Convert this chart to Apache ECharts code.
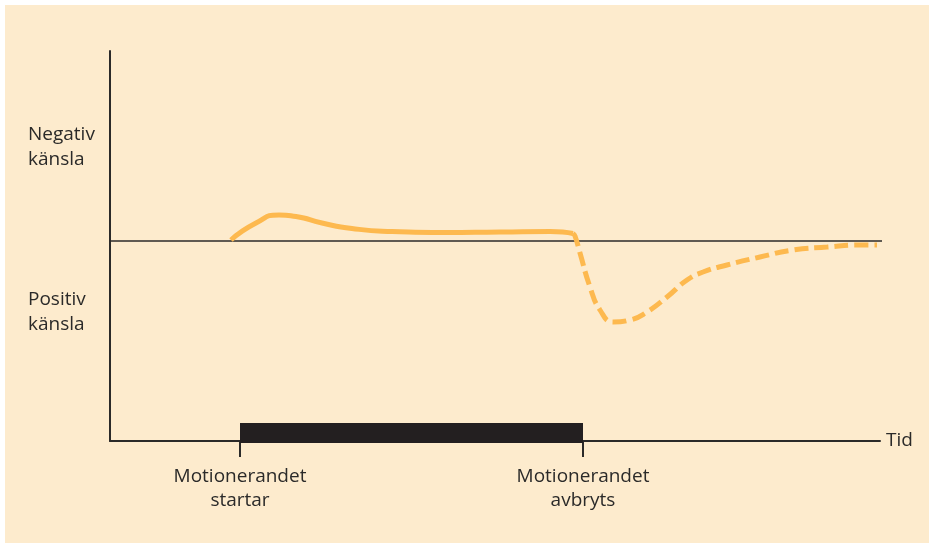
<!DOCTYPE html>
<html>
<head>
<meta charset="utf-8">
<script src="https://cdn.jsdelivr.net/npm/echarts@6/dist/echarts.min.js"></script>
<style>
html,body{margin:0;padding:0;background:#ffffff;}
#wrap{position:absolute;left:5px;top:5px;width:924px;height:538px;}
</style>
</head>
<body>
<div id="wrap"></div>
<script>
// x: time units, y: feeling (positive = negativ känsla)
var tickValues = [130, 473];
var tickLabels = ['Motionerandet\nstartar', 'Motionerandet\navbryts'];
var yLabelValues = [9.4, -7.1];
var yLabels = ['Negativ\nkänsla', 'Positiv\nkänsla'];
var solidCurve = [[121,0.1],[146,1.8],[169,2.6],[186,2.45],[212,1.8],[242,1.25],[282,0.95],[333,0.85],[390,0.9],[440,0.95],[463,0.75]];
var dashedCurve = [[463,0.75],[465,0.5],[470,-1.2],[480,-4.6],[490,-6.9],[503,-8.1],[520,-7.9],[537,-7.1],[557,-5.6],[577,-3.9],[593,-3.1],[617,-2.4],[650,-1.6],[683,-0.9],[717,-0.6],[750,-0.4],[767,-0.4]];
var exerciseBar = [[130,-19.2],[473,-19.2]];
var midLine = [[0,0],[775,0]];

var chart = echarts.init(document.getElementById('wrap'));
var txt = '#2b2a29';
var font = '"Open Sans", "Noto Sans", sans-serif';
chart.setOption({
  backgroundColor: '#fdebcd',
  animation: false,
  grid: {left: 105, top: 46, right: 49, bottom: 102},
  xAxis: {
    type: 'value', min: 0, max: 770,
    splitLine: {show: false},
    axisLine: {show: true, onZero: false, lineStyle: {color: txt, width: 2}},
    axisTick: {show: true, customValues: tickValues, length: 16, inside: false, lineStyle: {color: txt, width: 2}},
    axisLabel: {customValues: tickValues, formatter: function(v){ var i = tickValues.indexOf(v); return i >= 0 ? tickLabels[i] : ''; },
      color: txt, fontSize: 19, fontFamily: font, lineHeight: 24, margin: 24},
    name: 'Tid', nameLocation: 'end', nameGap: 6,
    nameTextStyle: {color: txt, fontSize: 19, fontFamily: font, verticalAlign: 'middle'}
  },
  yAxis: {
    type: 'value', min: -20, max: 19,
    splitLine: {show: false},
    axisLine: {show: true, lineStyle: {color: txt, width: 2}},
    axisTick: {show: false},
    axisLabel: {customValues: yLabelValues, formatter: function(v){ var i = yLabelValues.indexOf(v); return i >= 0 ? yLabels[i] : ''; },
      color: txt, fontSize: 19, fontFamily: font, lineHeight: 25, align: 'left', margin: 82}
  },
  series: [
    {type: 'line', data: midLine, symbol: 'none', silent: true, clip: false, lineStyle: {color: txt, width: 1.5}, z: 2},
    {type: 'line', data: exerciseBar, symbol: 'none', silent: true, lineStyle: {color: '#231f20', width: 20, cap: 'butt'}, z: 4},
    {type: 'line', data: solidCurve, symbol: 'none', smooth: 0.6, lineStyle: {color: '#fdb94f', width: 5, cap: 'butt'}, z: 5},
    {type: 'line', data: dashedCurve, symbol: 'none', smooth: 0.5, lineStyle: {color: '#fdb94f', width: 5, type: [14, 6], cap: 'butt'}, z: 5}
  ]
});
</script>
</body>
</html>
